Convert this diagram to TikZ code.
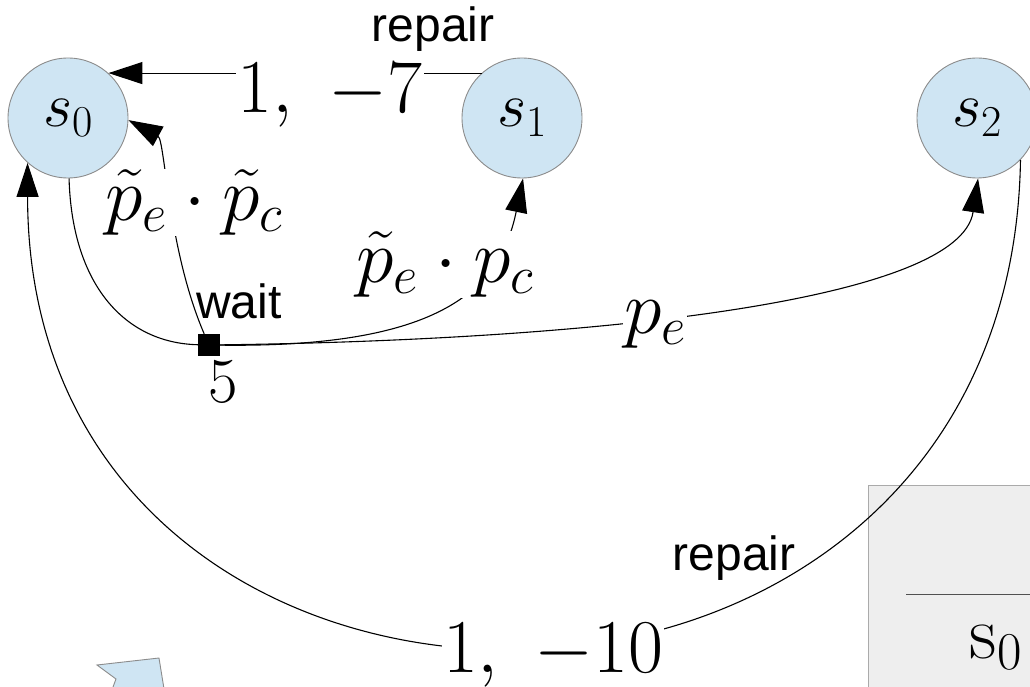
\RequirePackage{fix-cm}
\documentclass[tikz,border=0pt]{standalone}
\usepackage{fontspec}
\setsansfont{Liberation Sans}
\usetikzlibrary{arrows.meta}
\definecolor{stfill}{RGB}{207,229,243}
\definecolor{stdraw}{RGB}{140,140,140}
\definecolor{boxfill}{RGB}{238,238,238}
\definecolor{boxdraw}{RGB}{170,170,170}
\definecolor{boxline}{RGB}{80,80,80}
\tikzset{
  state/.style={circle, minimum size=120pt, inner sep=0pt, fill=stfill, draw=stdraw, line width=0.9pt, font=\fontsize{63}{66}\selectfont},
  act/.style={rectangle, minimum size=22pt, inner sep=0pt, fill=black},
  elbl/.style={font=\fontsize{76}{80}\selectfont, fill=white, inner sep=1pt, anchor=base},
  slbl/.style={font=\sffamily\fontsize{48}{52}\selectfont, inner sep=0pt, anchor=base},
  edge/.style={draw=black, line width=1.1pt},
  arr/.style={edge, -{Triangle[length=34pt,width=22pt]}}
}
\begin{document}
\begin{tikzpicture}[x=1pt, y=-1pt]
\clip (0,0) rectangle (1030,687);
\fill[white] (0,0) rectangle (1030,687);

% decorative fragments at the bottom
\filldraw[fill=boxfill, draw=boxdraw, line width=0.9pt] (868,485) rectangle (1045,700);
\draw[boxline, line width=0.9pt] (906,594) -- (1040,594);
\node[font=\fontsize{76}{80}\selectfont, inner sep=0pt, anchor=base] (bs) at (996,658) {$\mathrm{s}_0$};
\filldraw[fill=stfill, draw=stdraw, line width=0.9pt] (110,695) -- (116,679) -- (97,665) -- (159,658) -- (165,695) -- cycle;

% states
\node[state] (s0) at (68,118) {$s_0$};
\node[state] (s1) at (522,118) {$s_1$};
\node[state] (s2) at (977,118) {$s_2$};
\node[act] (wait) at (209,345) {};

% edges
\draw[arr] (s1.132) -- (s0.48);
\draw[edge] (s0.-89) .. controls (72,285) and (125,343) .. (wait);
\draw[arr] (wait) .. controls (168,250) and (165,140) .. (s0.-2);
\draw[arr] (wait) .. controls (440,348) and (500,290) .. (s1.-89);
\draw[arr] (wait) .. controls (600,340) and (960,300) .. (s2.-89);
\draw[arr] (s2.-44) .. controls (1010,807) and (28,807) .. (s0.-132);

% labels
\node[slbl] (lrep1) at (433,42) {repair};
\node[elbl] (l17) at (330,113) {$1,\ -7$};
\node[elbl] (lpp) at (194,220) {$\tilde{p}_e\cdot\tilde{p}_c$};
\node[elbl] (lpq) at (445,282) {$\tilde{p}_e\cdot p_c$};
\node[elbl] (lpe) at (655,333) {$p_e$};
\node[slbl] (lwait) at (239,318) {wait};
\node[font=\fontsize{64}{68}\selectfont, inner sep=0pt, anchor=base] (lfive) at (223,402) {$5$};
\node[slbl] (lrep2) at (734,570) {repair};
\node[elbl] (l110) at (553,672) {$1,\ -10$};
\end{tikzpicture}
\end{document}
